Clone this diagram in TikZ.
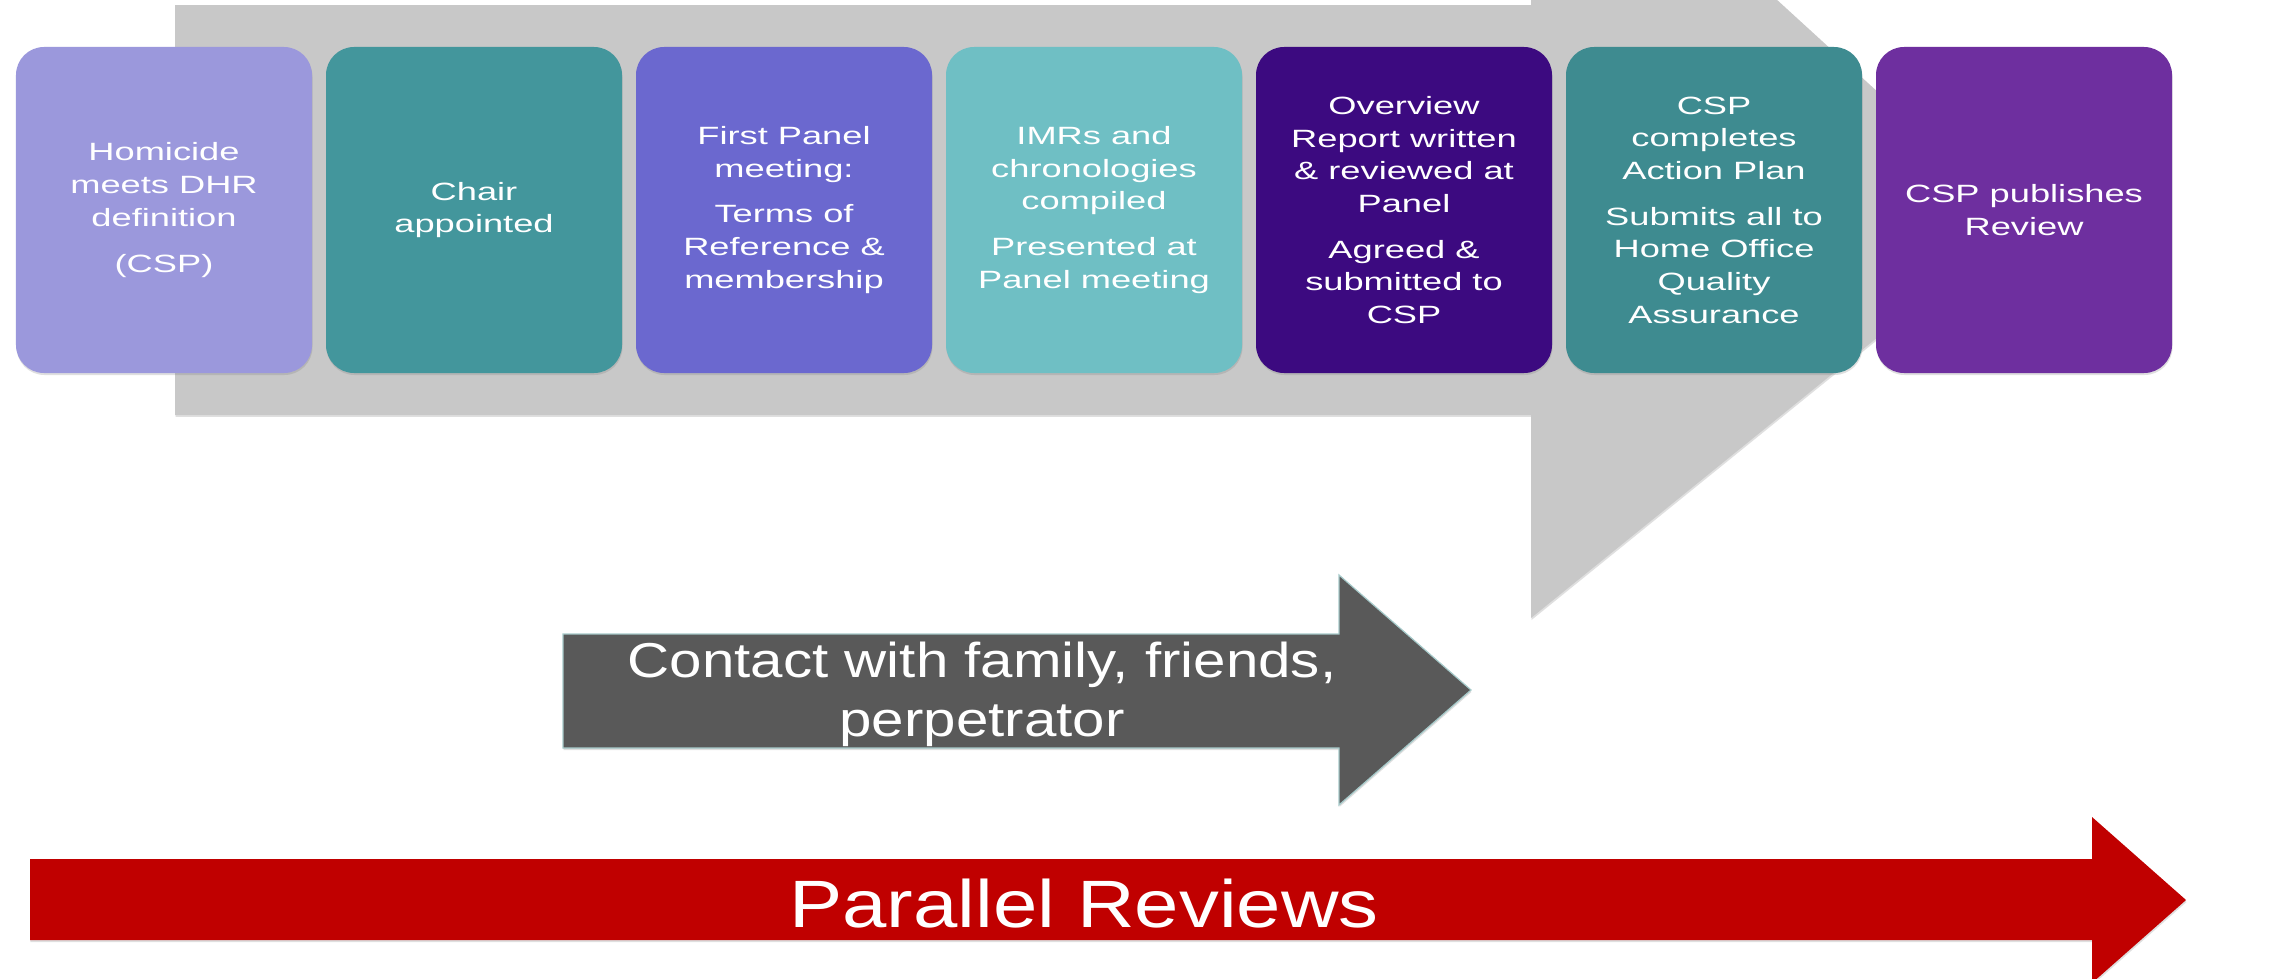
\documentclass[tikz,border=0pt]{standalone}
\usepackage{fontspec}
\setmainfont{Liberation Sans}
\newfontfamily\boxfont[FakeStretch=1.45]{Liberation Sans}
\newfontfamily\contactfont[FakeStretch=1.19]{Liberation Sans}
\newfontfamily\redfont[FakeStretch=1.19]{Liberation Sans}
\usetikzlibrary{shadows}
\definecolor{cOne}{HTML}{9B98DC}
\definecolor{cTwo}{HTML}{43969C}
\definecolor{cThree}{HTML}{6B68CF}
\definecolor{cFour}{HTML}{6FBFC4}
\definecolor{cFive}{HTML}{3C0A80}
\definecolor{cSix}{HTML}{3E8B90}
\definecolor{cSeven}{HTML}{6E2F9F}
\definecolor{bigGray}{HTML}{C8C8C8}
\definecolor{darkGray}{HTML}{595959}
\definecolor{edgeTeal}{HTML}{A6CACA}
\definecolor{redArrow}{HTML}{C00000}
\begin{document}
\begin{tikzpicture}[x=1bp,y=-1bp,
  softshadow/.style={drop shadow={opacity=0.25,shadow xshift=0.5pt,shadow yshift=-2pt}},
  stepbox/.style={rectangle, rounded corners=28bp, minimum width=296bp, minimum height=326bp,
    inner sep=0pt, text=white, align=center, softshadow,
    font=\boxfont\fontsize{25bp}{32.7bp}\selectfont},
  arrowtext/.style={text=white, align=center, inner sep=0pt}
]
\useasboundingbox (0,0) rectangle (2285,978);
\fill[white] (0,0) rectangle (2285,978);
\clip (0,0) rectangle (2285,978);

% big gray process arrow
\fill[bigGray, softshadow] (175,5) -- (1531,5) -- (1531,-225) -- (2020,222) -- (1531,618) -- (1531,415) -- (175,415) -- cycle;

% step boxes
\node[stepbox, fill=cOne]   (b1) at (164,210)  {Homicide\\meets DHR\\definition\\[13bp](CSP)};
\node[stepbox, fill=cTwo]   (b2) at (474,210)  {Chair\\appointed};
\node[stepbox, fill=cThree] (b3) at (784,210)  {First Panel\\meeting:\\[13bp]Terms of\\Reference \&\\membership};
\node[stepbox, fill=cFour]  (b4) at (1094,210) {IMRs and\\chronologies\\compiled\\[13bp]Presented at\\Panel meeting};
\node[stepbox, fill=cFive]  (b5) at (1404,210) {Overview\\Report written\\\& reviewed at\\Panel\\[13bp]Agreed \&\\submitted to\\CSP};
\node[stepbox, fill=cSix]   (b6) at (1714,210) {CSP\\completes\\Action Plan\\[13bp]Submits all to\\Home Office\\Quality\\Assurance};
\node[stepbox, fill=cSeven] (b7) at (2024,210) {CSP publishes\\Review};

% contact arrow
\fill[darkGray, draw=edgeTeal, line width=1.2bp, softshadow] (563,634) -- (1339,634) -- (1339,575) -- (1471,690) -- (1339,805) -- (1339,748) -- (563,748) -- cycle;
\node[arrowtext, font=\contactfont\fontsize{49bp}{59bp}\selectfont] (contact) at (982,694) {Contact with family, friends,\\perpetrator};

% parallel reviews arrow
\fill[redArrow, softshadow] (30,859) -- (2092,859) -- (2092,817) -- (2186,900) -- (2092,983) -- (2092,940) -- (30,940) -- cycle;
\node[arrowtext, anchor=base, font=\redfont\fontsize{67bp}{80bp}\selectfont] (parallel) at (1084,927) {Parallel Reviews};
\end{tikzpicture}
\end{document}
